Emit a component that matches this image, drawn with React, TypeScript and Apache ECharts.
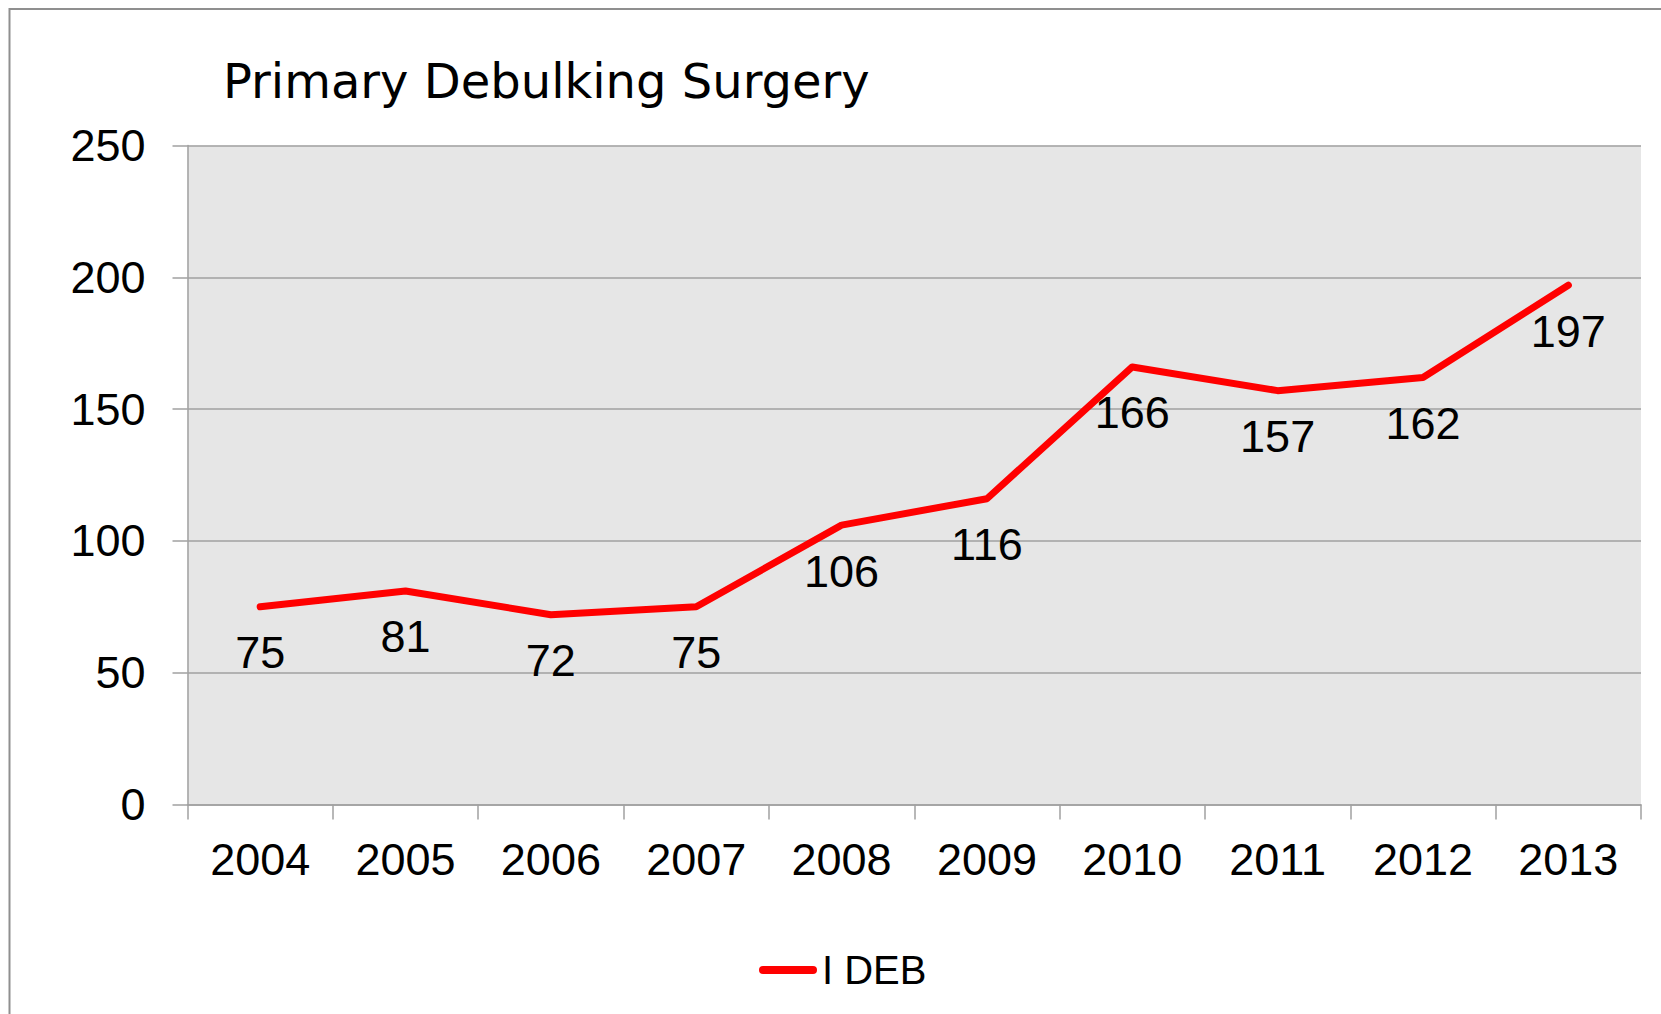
import React, { useEffect, useRef } from "react";
import * as echarts from "echarts";

const years = ["2004", "2005", "2006", "2007", "2008", "2009", "2010", "2011", "2012", "2013"];
const ideb = [75, 81, 72, 75, 106, 116, 166, 157, 162, 197];
const yTicks = { min: 0, max: 250, interval: 50 };
const titleText = "Primary Debulking Surgery";
const seriesName = "I DEB";

export default function App() {
  const ref = useRef<HTMLDivElement>(null);
  useEffect(() => {
    if (!ref.current) return;
    const chart = echarts.init(ref.current, null, { renderer: "svg" });
    const axisFont = "'Liberation Sans', Arial, sans-serif";
    chart.setOption({
      animation: false,
      backgroundColor: "#ffffff",
      title: {
        text: titleText,
        left: 218,
        top: 52,
        textStyle: {
          fontFamily: "'DejaVu Sans', sans-serif",
          fontSize: 48,
          fontWeight: "normal",
          color: "#000",
        },
      },
      legend: {
        left: 754,
        top: 945,
        itemWidth: 58,
        itemHeight: 8,
        icon: "path://M4,0 L54,0 A4,4 0 0 1 54,8 L4,8 A4,4 0 0 1 4,0 Z",
        itemStyle: { color: "#ff0000", opacity: 1, borderWidth: 0 },
        textStyle: { fontFamily: axisFont, fontSize: 40, color: "#000" },
        data: [seriesName],
      },
      grid: {
        left: 187.5,
        right: 20,
        top: 145.5,
        bottom: 209.5,
        show: true,
        backgroundColor: "#e6e6e6",
        borderWidth: 0,
        containLabel: false,
      },
      xAxis: {
        type: "category",
        data: years,
        boundaryGap: true,
        axisLine: { show: true, lineStyle: { color: "#a0a0a0", width: 1.5 } },
        axisTick: { show: true, length: 15, alignWithLabel: false, lineStyle: { color: "#a0a0a0", width: 1.5 } },
        axisLabel: { fontFamily: axisFont, fontSize: 45, color: "#000", margin: 32 },
        splitLine: { show: false },
      },
      yAxis: {
        type: "value",
        min: yTicks.min,
        max: yTicks.max,
        interval: yTicks.interval,
        axisLine: { show: true, lineStyle: { color: "#a0a0a0", width: 1.5 } },
        axisTick: { show: true, length: 15, lineStyle: { color: "#a0a0a0", width: 1.5 } },
        axisLabel: { fontFamily: axisFont, fontSize: 45, color: "#000", margin: 42 },
        splitLine: { show: true, lineStyle: { color: "#a0a0a0", width: 1.5 } },
      },
      series: [
        {
          name: seriesName,
          type: "line",
          data: ideb,
          color: "#ff0000",
          symbol: "circle",
          symbolSize: 1,
          showSymbol: true,
          itemStyle: { color: "#ff0000" },
          lineStyle: { color: "#ff0000", width: 7, cap: "round", join: "round" },
          label: {
            show: true,
            position: "inside",
            offset: [0, 46],
            fontFamily: axisFont,
            fontSize: 45,
            color: "#000",
          },
        },
      ],
      graphic: [
        {
          type: "rect",
          shape: { x: 9.5, y: 9, width: 1800, height: 1200 },
          style: { fill: "none", stroke: "#8f8f8f", lineWidth: 2 },
          silent: true,
        },
      ],
    });
    return () => chart.dispose();
  }, []);
  return (
    <div
      ref={ref}
      style={{ position: "fixed", left: 0, top: 0, width: 1661, height: 1014 }}
    />
  );
}
